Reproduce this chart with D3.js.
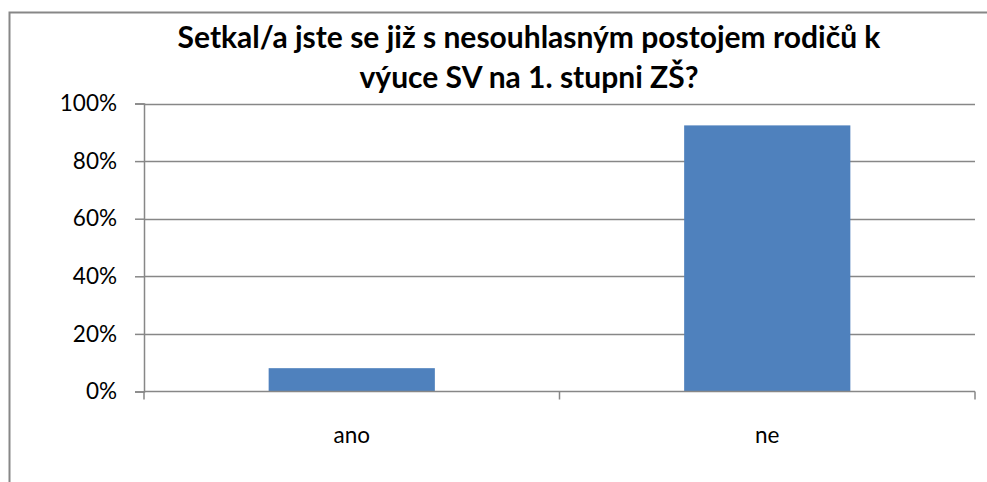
<!DOCTYPE html>
<html>
<head>
<meta charset="utf-8">
<script src="https://cdn.jsdelivr.net/npm/d3@7"></script>
<style>
  body { margin: 0; background: #fff; }
  svg { display: block; }
  text { font-family: Lato, "Open Sans", sans-serif; fill: #000; }
</style>
</head>
<body>
<div id="chart"></div>
<script>
// data
var categories = ['ano', 'ne'];
var values = [0.081, 0.924];
var yTicks = [0, 0.2, 0.4, 0.6, 0.8, 1];
var titleLines = ['Setkal/a jste se již s nesouhlasným postojem rodičů k', 'výuce SV na 1. stupni ZŠ?'];

var width = 987, height = 482;
var margin = {left: 144, right: 12, top: 103.5, bottom: 90.5};

var svg = d3.select('#chart').append('svg')
  .attr('width', width)
  .attr('height', height);

// outer frame (bottom and right run off the picture)
svg.append('path')
  .attr('d', 'M9.5,' + (height + 5) + 'V12.5H' + (width + 5))
  .attr('fill', 'none')
  .attr('stroke', '#878787')
  .attr('stroke-width', 2);

var x = d3.scaleBand()
  .domain(categories)
  .range([margin.left, width - margin.right])
  .paddingInner(0.6)
  .paddingOuter(0.3);

var y = d3.scaleLinear()
  .domain([0, 1])
  .range([height - margin.bottom, margin.top]);

// gridlines
svg.append('g').selectAll('line').data(yTicks.slice(1)).enter()
  .append('line')
  .attr('x1', margin.left)
  .attr('x2', width - margin.right)
  .attr('y1', function(d) { return Math.round(y(d)) + 0.5; })
  .attr('y2', function(d) { return Math.round(y(d)) + 0.5; })
  .attr('stroke', '#878787')
  .attr('stroke-width', 1.5);

// y axis
var yAxis = svg.append('g')
  .attr('transform', 'translate(' + margin.left + ',0)')
  .call(d3.axisLeft(y).tickValues(yTicks).tickFormat(d3.format('.0%')).tickSize(9).tickPadding(18));
yAxis.selectAll('line, path').attr('stroke', '#878787').attr('stroke-width', 1.5);
yAxis.selectAll('text').style('font-size', '22.5px').attr('fill', '#000');

// bars
svg.append('g').selectAll('rect').data(values).enter()
  .append('rect')
  .attr('x', function(d, i) { return x(categories[i]); })
  .attr('width', x.bandwidth())
  .attr('y', function(d) { return y(d); })
  .attr('height', function(d) { return y(0) - y(d); })
  .attr('fill', '#4F81BD');

// x axis: ticks at category boundaries
var edges = d3.scaleLinear().domain([0, categories.length]).range([margin.left, width - margin.right]);
var xAxis = svg.append('g').attr('transform', 'translate(0,' + y(0) + ')');
xAxis.append('line')
  .attr('x1', margin.left).attr('x2', width - margin.right)
  .attr('stroke', '#878787').attr('stroke-width', 1.5);
xAxis.selectAll('line.tick').data(d3.range(categories.length + 1)).enter()
  .append('line')
  .attr('class', 'tick')
  .attr('x1', function(d) { return edges(d); })
  .attr('x2', function(d) { return edges(d); })
  .attr('y1', 0).attr('y2', 8)
  .attr('stroke', '#878787').attr('stroke-width', 1.5);
xAxis.selectAll('text').data(categories).enter()
  .append('text')
  .attr('x', function(d) { return x(d) + x.bandwidth() / 2; })
  .attr('y', 51)
  .attr('text-anchor', 'middle')
  .style('font-size', '22.5px')
  .text(function(d) { return d; });

// title
svg.append('g').selectAll('text').data(titleLines).enter()
  .append('text')
  .attr('x', 529)
  .attr('y', function(d, i) { return 48 + i * 40; })
  .attr('text-anchor', 'middle')
  .style('font-size', '30px')
  .style('font-weight', 'bold')
  .text(function(d) { return d; });
</script>
</body>
</html>
